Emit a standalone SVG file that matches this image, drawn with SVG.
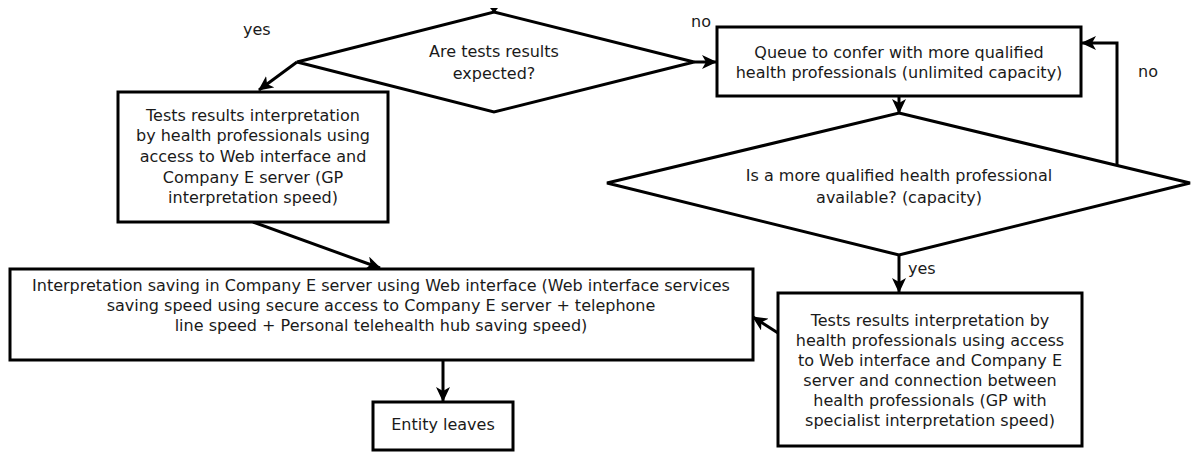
<svg xmlns="http://www.w3.org/2000/svg" width="1195" height="452" viewBox="0 0 1195 452">
  <style>
    .shape { fill: #ffffff; stroke: #000000; stroke-width: 3; }
    .edge { fill: none; stroke: #000000; stroke-width: 3; }
    text { font-family: "DejaVu Sans", Verdana, sans-serif; font-size: 16px; fill: #1a1a1a; text-anchor: middle; }
    .lbl { text-anchor: start; }
  </style>
  <defs>
    <marker id="arrow" markerUnits="userSpaceOnUse" markerWidth="16" markerHeight="14" refX="14" refY="7" orient="auto">
      <path d="M0,0 L15,7 L0,14 L4,7 z" fill="#000000"/>
    </marker>
  </defs>

  <!-- connectors -->
  <g id="connectors">
    <!-- incoming entity arrow, mostly above the top edge -->
    <polygon points="490,8 498,8 494,13" fill="#000000"/>
    <line class="edge" x1="297" y1="62" x2="259" y2="90" marker-end="url(#arrow)"/>
    <line class="edge" x1="694" y1="62" x2="716" y2="62" marker-end="url(#arrow)"/>
    <line class="edge" x1="899" y1="96" x2="899" y2="113" marker-end="url(#arrow)"/>
    <polyline class="edge" points="1117,165 1117,43 1082,43" marker-end="url(#arrow)"/>
    <line class="edge" x1="899" y1="255" x2="899" y2="292" marker-end="url(#arrow)"/>
    <line class="edge" x1="253" y1="222" x2="380" y2="268" marker-end="url(#arrow)"/>
    <line class="edge" x1="778" y1="333" x2="753" y2="317" marker-end="url(#arrow)"/>
    <line class="edge" x1="443" y1="360" x2="443" y2="401" marker-end="url(#arrow)"/>
    <text class="lbl" x="243" y="35">yes</text>
    <text class="lbl" x="691" y="27">no</text>
    <text class="lbl" x="1138" y="77">no</text>
    <text class="lbl" x="908" y="274">yes</text>
  </g>

  <g id="decision-results">
    <polygon class="shape" points="494,12 694,62 494,112 297,62"/>
    <text x="494" y="57">Are tests results</text>
    <text x="494" y="79">expected?</text>
  </g>

  <g id="gp-interpretation">
    <rect class="shape" x="118" y="92" width="270" height="130"/>
    <text x="253" y="121">Tests results interpretation</text>
    <text x="253" y="141">by health professionals using</text>
    <text x="253" y="162">access to Web interface and</text>
    <text x="253" y="183">Company E server (GP</text>
    <text x="253" y="203">interpretation speed)</text>
  </g>

  <g id="queue">
    <rect class="shape" x="717" y="27" width="364" height="69"/>
    <text x="899" y="58">Queue to confer with more qualified</text>
    <text x="899" y="78">health professionals (unlimited capacity)</text>
  </g>

  <g id="decision-capacity">
    <polygon class="shape" points="899,113 1190,183 899,255 607,183"/>
    <text x="899" y="181">Is a more qualified health professional</text>
    <text x="899" y="203">available? (capacity)</text>
  </g>

  <g id="specialist-interpretation">
    <rect class="shape" x="778" y="293" width="304" height="153"/>
    <text x="930" y="326">Tests results interpretation by</text>
    <text x="930" y="346">health professionals using access</text>
    <text x="930" y="366">to Web interface and Company E</text>
    <text x="930" y="386">server and connection between</text>
    <text x="930" y="406">health professionals (GP with</text>
    <text x="930" y="426">specialist interpretation speed)</text>
  </g>

  <g id="saving">
    <rect class="shape" x="10" y="269" width="743" height="91"/>
    <text x="381" y="291">Interpretation saving in Company E server using Web interface (Web interface services</text>
    <text x="381" y="311">saving speed using secure access to Company E server + telephone</text>
    <text x="381" y="331">line speed + Personal telehealth hub saving speed)</text>
  </g>

  <g id="entity-leaves">
    <rect class="shape" x="373" y="402" width="140" height="48"/>
    <text x="443" y="430">Entity leaves</text>
  </g>
</svg>
